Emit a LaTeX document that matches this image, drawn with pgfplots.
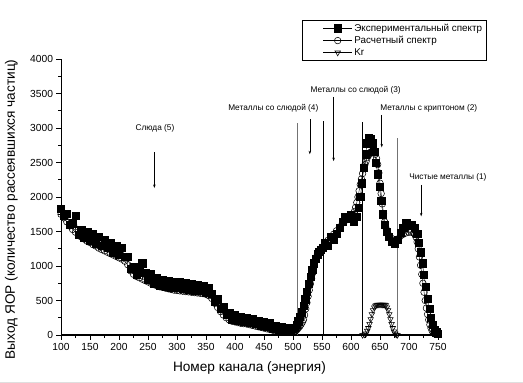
\documentclass[border=0pt]{standalone}
\usepackage{pgfplots}
\pgfplotsset{compat=1.18}
\usepackage{fontspec}
\setmainfont{Liberation Sans}
\usetikzlibrary{arrows.meta}

\begin{document}
\begin{tikzpicture}
\useasboundingbox (0,0) rectangle (523bp,383bp);
\draw[gray!25, line width=0.8bp] (0,1bp) -- (523bp,1bp);
\begin{axis}[
  at={(61bp,48bp)}, anchor=south west,
  width=377bp, height=276bp, scale only axis,
  xmin=100, xmax=750, ymin=0, ymax=4000,
  axis x line=bottom, axis y line=left,
  axis line style={-, black},
  x axis line style={line width=2bp},
  y axis line style={line width=0.7bp},
  xtick={100,150,...,750}, minor x tick num=1,
  ytick={0,500,...,4000}, minor y tick num=1,
  tick align=outside,
  major tick length=4.5bp, minor tick length=2.5bp,
  tick style={black, line width=0.7bp},
  ticklabel style={font=\fontsize{10.3}{12}\selectfont},
  /pgf/number format/assume math mode=true,
  /pgf/number format/1000 sep={},
  xlabel={Номер канала (энергия)},
  ylabel={Выход ЯОР (количество рассеявшихся частиц)},
  every axis x label/.style={at={(axis description cs:0.5,-0.12)}, anchor=center, font=\fontsize{13.7}{15}\selectfont},
  every axis y label/.style={at={(axis description cs:-0.132,0.455)}, rotate=90, anchor=center, font=\fontsize{13.7}{15}\selectfont},
  clip=false,
  legend style={at={(rel axis cs:0.639,1.141)}, anchor=north west, draw=black, line width=0.6bp,
    font=\fontsize{9.9}{11}\selectfont, inner xsep=2bp, inner ysep=1.5bp, row sep=-0.5bp},
  legend cell align=left,
  legend image code/.code={\path[draw opacity=0, fill opacity=0, draw=none] (0bp,0bp) -- (48bp,0bp); \draw[mark repeat=2,mark phase=2] plot coordinates {(19bp,0bp) (33.5bp,0bp) (48bp,0bp)};},
]
% Experimental spectrum
\addplot[black, line width=0.4bp, mark=square*, mark size=3.6bp, mark options={solid, fill=black}] coordinates {
(100,1830) (105,1730) (110,1760) (115,1600) (120,1620) (125,1730) (130,1450) (135,1530)
(140,1410) (145,1500) (150,1370) (155,1460) (160,1330) (165,1420) (170,1290) (175,1380)
(180,1260) (185,1330) (190,1200) (195,1290) (200,1160) (205,1260) (210,1130) (215,1130)
(220,960) (225,990) (230,880) (235,960) (240,1040) (245,900) (250,800) (255,880)
(260,750) (265,830) (270,720) (275,800) (280,700) (285,790) (290,690) (295,770)
(300,680) (305,770) (310,670) (315,750) (320,660) (325,740) (330,650) (335,730)
(340,640) (345,720) (350,620) (355,680) (360,600) (365,490) (370,520) (375,380)
(380,410) (385,290) (390,320) (395,230) (400,290) (405,210) (410,270) (415,190)
(420,250) (425,180) (430,230) (435,160) (440,210) (445,140) (450,190) (455,120)
(460,170) (465,100) (470,140) (475,80) (480,120) (485,70) (490,100) (495,70)
(500,90) (503,110) (506,150) (509,200) (512,260) (515,330) (518,420) (521,520)
(524,630) (527,740) (530,850) (533,950) (536,1040) (539,1110) (542,1170) (545,1210)
(548,1240) (551,1270) (555,1330) (560,1290) (565,1420) (570,1380) (575,1470) (580,1560)
(585,1640) (590,1720) (595,1690) (600,1740) (605,1650) (610,1720) (613,1850) (616,2000)
(619,2200) (622,2420) (625,2620) (628,2780) (631,2860) (634,2850) (637,2780) (640,2660)
(643,2500) (646,2330) (649,2150) (652,1950) (655,1750) (658,1600) (661,1500) (665,1420)
(670,1350) (675,1330) (680,1380) (685,1480) (690,1560) (695,1620) (700,1600) (705,1590)
(710,1560) (714,1470) (717,1340) (720,1200) (723,1040) (726,870) (729,700) (732,530)
(735,380) (738,250) (741,150) (744,80) (747,40) (750,20)
};
\addlegendentry{Экспериментальный спектр\hspace{34bp}}
% Calculated spectrum
\addplot[black, line width=0.4bp, mark=o, mark size=3.3bp, mark options={solid, fill=none, line width=0.55bp}] coordinates {
(100,1750) (105,1700) (110,1640) (115,1580) (120,1530) (125,1490) (130,1450) (135,1420)
(140,1390) (145,1360) (150,1340) (155,1310) (160,1290) (165,1260) (170,1240) (175,1220)
(180,1200) (185,1180) (190,1160) (195,1140) (200,1120) (205,1100) (210,1070) (215,1020)
(220,930) (225,880) (230,850) (235,830) (240,810) (245,790) (250,770) (255,750)
(260,730) (265,715) (270,700) (275,690) (280,680) (285,670) (290,660) (295,650)
(300,645) (305,640) (310,635) (315,630) (320,625) (325,620) (330,615) (335,610)
(340,605) (345,600) (350,590) (355,570) (360,530) (365,460) (370,400) (375,340)
(380,290) (385,250) (390,220) (395,200) (400,190) (405,180) (410,170) (415,165)
(420,160) (425,150) (430,140) (435,130) (440,120) (445,110) (450,100) (455,90)
(460,80) (465,70) (470,60) (475,55) (480,50) (485,45) (490,40) (495,38)
(500,40) (502,45) (504,55) (506,70) (508,90) (510,110) (512,130) (514,155)
(516,185) (518,220) (520,290) (522,380) (524,470) (526,560) (528,650) (530,740)
(532,820) (534,900) (536,990) (538,1070) (540,1120) (542,1170) (544,1200) (546,1230)
(548,1250) (550,1270) (555,1320) (560,1370) (565,1420) (570,1460) (575,1510) (580,1560)
(585,1620) (590,1660) (595,1680) (600,1700) (602,1720) (604,1750) (606,1790) (608,1850)
(610,1920) (612,2000) (614,2090) (616,2180) (618,2260) (620,2340) (622,2410) (624,2470)
(626,2520) (628,2570) (630,2600) (632,2630) (634,2650) (636,2660) (638,2660) (640,2650)
(642,2620) (644,2560) (646,2470) (648,2350) (650,2200) (652,2050) (654,1900) (656,1760)
(658,1640) (660,1560) (662,1500) (664,1460) (666,1440) (670,1400) (675,1370) (680,1390)
(685,1430) (690,1460) (695,1480) (700,1490) (704,1490) (708,1480) (710,1460) (712,1420)
(714,1350) (716,1250) (718,1130) (720,1010) (722,880) (724,750) (726,620) (728,500)
(730,390) (732,300) (734,220) (736,150) (738,100) (740,60) (742,35) (744,20) (746,10)
};
\addlegendentry{Расчетный спектр}
% Kr
\addplot[black, line width=0.4bp, mark=triangle, mark size=3.2bp, mark options={solid, rotate=180, fill=none, line width=0.55bp}] coordinates {
(620,0) (623,5) (626,20) (628,60) (630,100) (632,160) (634,230) (636,300) (638,360)
(640,400) (642,425) (644,435) (646,440) (648,440) (650,440) (652,440) (654,440)
(656,440) (658,438) (660,430) (662,400) (664,360) (666,300) (668,230) (670,160)
(672,100) (674,50) (676,20) (678,5) (680,0)
};
\addlegendentry{Kr}

% vertical boundary lines
\draw[black!55, line width=0.5bp] (axis cs:507,0) -- (axis cs:507,3070);
\draw[black, line width=0.5bp] (axis cs:552,0) -- (axis cs:552,3100);
\draw[black, line width=0.5bp] (axis cs:620,0) -- (axis cs:620,3090);
\draw[black!55, line width=0.5bp] (axis cs:679,0) -- (axis cs:679,2855);

% annotations
\tikzset{ann/.style={font=\fontsize{8.3}{9}\selectfont, inner sep=0pt},
         arr/.style={-{Stealth[length=3.5bp,width=2.5bp]}, line width=0.5bp}}
\node[ann] at (axis cs:262,3000) {Слюда (5)};
\draw[arr] (axis cs:261,2650) -- (axis cs:261,2130);
\node[ann] at (axis cs:466,3289) {Металлы со слюдой (4)};
\draw[arr] (axis cs:529,3130) -- (axis cs:529,2620);
\node[ann] at (axis cs:608,3550) {Металлы со слюдой (3)};
\draw[arr] (axis cs:570,3450) -- (axis cs:570,2520);
\node[ann] at (axis cs:734,3289) {Металлы с криптоном (2)};
\draw[arr] (axis cs:653,3190) -- (axis cs:653,2720);
\node[ann] at (axis cs:767,2289) {Чистые металлы (1)};
\draw[arr] (axis cs:721,2175) -- (axis cs:721,1720);
\end{axis}
\end{tikzpicture}
\end{document}
